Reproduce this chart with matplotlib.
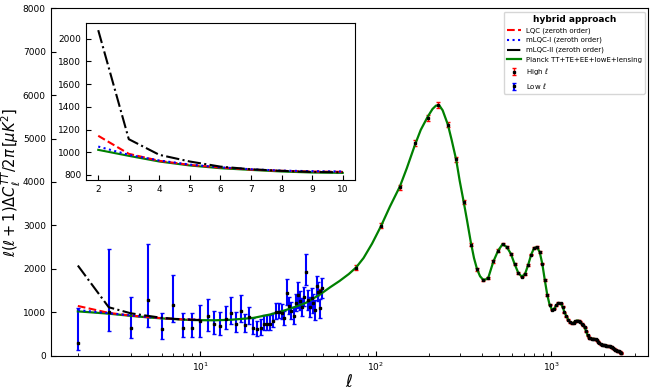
import numpy as np
import matplotlib.pyplot as plt

plt.rcParams['xtick.direction'] = 'in'
plt.rcParams['ytick.direction'] = 'in'

# theory curves at low ell (zeroth order)
ell_th = [2, 3, 4, 5, 6, 7, 8, 9, 10]
lqc = [1145, 986, 924, 888, 865, 847, 836, 830, 827]
mlqc1 = [1050, 977, 927, 891, 867, 850, 838, 833, 830]
mlqc2 = [2076, 1115, 977, 918, 873, 850, 836, 826, 823]
planck_low = [1021, 968, 918, 883, 859, 844, 830, 821, 818]

# planck curve from ell = 12 up to the first trough
ell_mid = [12, 15, 20, 25, 30, 35, 40, 48, 55, 62, 70, 77, 85, 95, 107, 120, 137, 150,
           167, 180, 197, 210, 220, 230, 240, 257, 270, 287, 300, 317, 330, 347, 362,
           377, 392, 407, 420, 437]
planck_mid = [815, 828, 870, 950, 1040, 1130, 1220, 1410, 1580, 1720, 1880, 2030, 2250,
              2580, 2990, 3430, 3900, 4320, 4860, 5200, 5500, 5680, 5760, 5760, 5650,
              5320, 4970, 4500, 4030, 3520, 3130, 2620, 2250, 1990, 1830, 1755, 1750, 1800]

# low ell data points (value, lower edge, upper edge)
low_ell = [2, 3, 4, 5, 6, 7, 8, 9, 10, 11, 12, 13, 14, 15, 16, 17, 18, 19, 20, 21,
           22, 23, 24, 25, 26, 27, 28, 29, 30, 31, 32, 33, 34, 35, 36, 37, 38, 39, 40, 41,
           42, 43, 44, 45, 46, 47, 48, 49]
low_dl = [290, 1006, 645, 1283, 608, 1161, 645, 631, 806, 914, 730, 691, 838, 991, 737, 1037, 707, 891, 645, 608,
          631, 730, 737, 737, 799, 1006, 1006, 991, 861, 1437, 1145, 1029, 914, 1221, 1398, 1260, 1128, 1359, 1921, 1283,
          1128, 1322, 1207, 1052, 1600, 1474, 1091, 1552]
low_lo = [130, 569, 415, 668, 385, 783, 424, 424, 438, 576, 500, 470, 615, 723, 553, 783, 553, 723, 493, 454,
          484, 592, 599, 592, 654, 838, 861, 838, 700, 1168, 950, 840, 720, 1020, 1091, 1050, 920, 1140, 1628, 1060,
          900, 1100, 980, 830, 1380, 1250, 870, 1330]
low_hi = [1100, 2450, 1359, 2566, 991, 1858, 991, 991, 1168, 1299, 1037, 999, 1145, 1359, 1006, 1391, 953, 1128, 861, 806,
          838, 937, 944, 937, 983, 1221, 1207, 1184, 1030, 1760, 1350, 1230, 1110, 1420, 1704, 1480, 1340, 1580, 2335, 1510,
          1350, 1550, 1430, 1280, 1840, 1700, 1310, 1780]

# high ell binned data
high_ell = [48, 77, 107, 137, 167, 197, 227, 257, 287, 317,
            347, 377, 407, 437, 467, 497, 527, 557, 587, 617,
            647, 677, 707, 737, 767, 797, 827, 857, 887, 917,
            947, 977, 1007, 1037, 1067, 1097, 1127, 1157, 1187, 1217,
            1247, 1277, 1307, 1337, 1367, 1397, 1427, 1457, 1487, 1517,
            1547, 1577, 1607, 1637, 1667, 1697, 1727, 1757, 1787, 1817,
            1847, 1877, 1907, 1937, 1967, 1997, 2027, 2057, 2087, 2117,
            2147, 2177, 2207, 2237, 2267, 2297, 2327, 2357, 2387, 2417,
            2447, 2477, 2497]
high_dl = [1480, 2030, 2990, 3880, 4900, 5480, 5770, 5320, 4520, 3530,
           2560, 1990, 1750, 1790, 2170, 2420, 2570, 2500, 2350, 2110,
           1910, 1820, 1880, 2090, 2330, 2480, 2500, 2390, 2120, 1740,
           1400, 1170, 1060, 1080, 1160, 1215, 1210, 1130, 1000, 910,
           830, 770, 745, 760, 790, 810, 805, 780, 740, 700,
           650, 560, 470, 415, 400, 392, 390, 385, 375, 355,
           320, 290, 265, 250, 245, 245, 240, 232, 225, 220,
           213, 207, 195, 175, 155, 140, 125, 115, 105, 98,
           90, 72, 58]
high_err = [60, 55, 55, 58, 62, 66, 68, 60, 52, 44,
            36, 30, 27, 26, 26, 26, 26, 25, 24, 22,
            20, 19, 19, 19, 20, 20, 20, 19, 18, 16,
            14, 13, 12, 12, 12, 12, 12, 11, 11, 10,
            10, 10, 10, 10, 10, 10, 10, 10, 10, 9,
            9, 9, 9, 9, 9, 9, 9, 9, 9, 9,
            9, 9, 9, 9, 9, 9, 10, 10, 10, 10,
            10, 10, 10, 11, 11, 11, 12, 12, 12, 13,
            13, 14, 15]

# full planck curve: fine sampling up to 437, binned values after that
planck_ell = ell_th + ell_mid + high_ell[14:]
planck_dl = planck_low + planck_mid + high_dl[14:]

low_dl = np.array(low_dl)
low_err = [low_dl - np.array(low_lo), np.array(low_hi) - low_dl]

fig = plt.figure(figsize=(6.54, 3.91), dpi=100)
ax = fig.add_axes([0.0775, 0.0903, 0.9138, 0.8885])

ax.plot(ell_th, lqc, 'r--', lw=1.5, label='LQC (zeroth order)', zorder=3)
ax.plot(ell_th, mlqc1, 'b:', lw=1.5, label='mLQC-I (zeroth order)', zorder=3)
ax.plot(ell_th, mlqc2, 'k-.', lw=1.5, label='mLQC-II (zeroth order)', zorder=3)
ax.plot(planck_ell, planck_dl, 'g-', lw=1.6, label='Planck TT+TE+EE+lowE+lensing', zorder=2.5)

eb_high = ax.errorbar(high_ell, high_dl, yerr=high_err, fmt='s', ms=2, color='k',
                      ecolor='r', elinewidth=1, capsize=1.5, label=r'High $\ell$', zorder=2)
eb_low = ax.errorbar(low_ell, low_dl, yerr=low_err, fmt='s', ms=2, color='k',
                     ecolor='b', elinewidth=1.5, capsize=1.5, label=r'Low $\ell$', zorder=2)
eb_high[0].set_zorder(4)
eb_low[0].set_zorder(4)

ax.set_xscale('log')
ax.set_ylim(0, 8000)
ax.set_xlabel(r'$\ell$', fontsize=12, labelpad=0)
ax.set_ylabel(r'$\ell(\ell+1)\Delta C_\ell^{TT}/2\pi\,[\mu K^2]$', fontsize=10.5, labelpad=0)
ax.tick_params(which='both', labelsize=6.5)

leg = ax.legend(loc='upper right', fontsize=5, title='hybrid approach',
                title_fontproperties={'weight': 'bold', 'size': 6.5})

# inset for the lowest multipoles
axins = fig.add_axes([0.1315, 0.5396, 0.4113, 0.4015])
axins.plot(ell_th, lqc, 'r--', lw=1.5)
axins.plot(ell_th, mlqc1, 'b:', lw=1.5)
axins.plot(ell_th, mlqc2, 'k-.', lw=1.5)
axins.plot(ell_th, planck_low, 'g-', lw=1.5, zorder=1.5)
axins.tick_params(labelsize=6.5)

fig.savefig('out.png', dpi=100)
